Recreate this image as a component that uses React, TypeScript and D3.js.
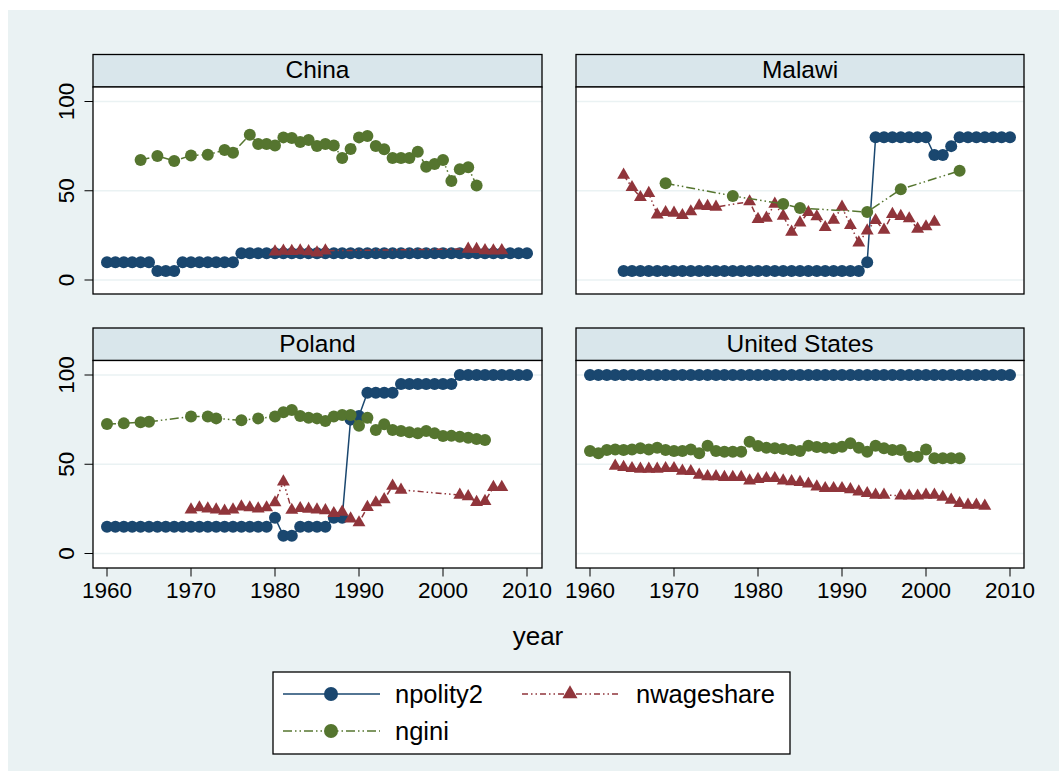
import React from "react";
import * as d3 from "d3";

type Pt = [number, number];

const countries = ["China", "Malawi", "Poland", "United States"];
const seriesNames = ["npolity2", "nwageshare", "ngini"];
const xTicks = [1960, 1970, 1980, 1990, 2000, 2010];
const yTicks = [0, 50, 100];

// China
const chinaPolity: Pt[] = [
  [1960, 10], [1961, 10], [1962, 10], [1963, 10], [1964, 10], [1965, 10],
  [1966, 5], [1967, 5], [1968, 5],
  [1969, 10], [1970, 10], [1971, 10], [1972, 10], [1973, 10], [1974, 10], [1975, 10],
  [1976, 15], [1977, 15], [1978, 15], [1979, 15], [1980, 15], [1981, 15], [1982, 15], [1983, 15],
  [1984, 15], [1985, 15], [1986, 15], [1987, 15], [1988, 15], [1989, 15], [1990, 15], [1991, 15],
  [1992, 15], [1993, 15], [1994, 15], [1995, 15], [1996, 15], [1997, 15], [1998, 15], [1999, 15],
  [2000, 15], [2001, 15], [2002, 15], [2003, 15], [2004, 15], [2005, 15], [2006, 15], [2007, 15],
  [2008, 15], [2009, 15], [2010, 15],
];
const chinaWage: Pt[] = [
  [1980, 15.8], [1981, 16.3], [1982, 16.1], [1983, 16.4], [1984, 16.0], [1985, 15.3], [1986, 16.4],
  [2003, 17.4], [2004, 17.2], [2005, 16.5], [2006, 16.4], [2007, 16.5],
];
const chinaGini: Pt[] = [
  [1964, 67.2], [1966, 69.5], [1968, 66.7], [1970, 69.8], [1972, 70.2], [1974, 72.8], [1975, 71.3],
  [1977, 81.4], [1978, 76.2], [1979, 76.2], [1980, 75.4], [1981, 79.9], [1982, 79.6], [1983, 77.3],
  [1984, 78.4], [1985, 75.1], [1986, 76.2], [1987, 75.4], [1988, 68.3], [1989, 73.4], [1990, 79.9],
  [1991, 80.7], [1992, 75.1], [1993, 73.2], [1994, 68.3], [1995, 68.3], [1996, 68.3], [1997, 71.9],
  [1998, 63.5], [1999, 65.0], [2000, 67.2], [2001, 55.5], [2002, 62.0], [2003, 63.1], [2004, 53.0],
];

// Malawi
const malawiPolity: Pt[] = [
  [1964, 5], [1965, 5], [1966, 5], [1967, 5], [1968, 5], [1969, 5], [1970, 5], [1971, 5],
  [1972, 5], [1973, 5], [1974, 5], [1975, 5], [1976, 5], [1977, 5], [1978, 5], [1979, 5],
  [1980, 5], [1981, 5], [1982, 5], [1983, 5], [1984, 5], [1985, 5], [1986, 5], [1987, 5],
  [1988, 5], [1989, 5], [1990, 5], [1991, 5], [1992, 5], [1993, 10],
  [1994, 80], [1995, 80], [1996, 80], [1997, 80], [1998, 80], [1999, 80], [2000, 80],
  [2001, 70], [2002, 70], [2003, 75],
  [2004, 80], [2005, 80], [2006, 80], [2007, 80], [2008, 80], [2009, 80], [2010, 80],
];
const malawiWage: Pt[] = [
  [1964, 58.8], [1965, 51.9], [1966, 46.3], [1967, 48.6], [1968, 36.6], [1969, 37.9], [1970, 37.5],
  [1971, 36.2], [1972, 38.3], [1973, 41.6], [1974, 41.3], [1975, 40.9], [1979, 43.9], [1980, 34.0],
  [1981, 34.7], [1982, 42.6], [1983, 35.9], [1984, 26.9], [1985, 32.1], [1986, 37.9], [1987, 35.5],
  [1988, 29.5], [1989, 33.6], [1990, 40.9], [1991, 30.6], [1992, 20.9], [1993, 27.6], [1994, 33.4],
  [1995, 28.0], [1996, 36.8], [1997, 35.7], [1998, 34.4], [1999, 28.6], [2000, 29.9], [2001, 32.5],
];
const malawiGini: Pt[] = [
  [1969, 54.2], [1977, 47.1], [1983, 42.6], [1985, 40.3], [1993, 38.1], [1997, 50.8], [2004, 61.2],
];

// Poland
const polandPolity: Pt[] = [
  [1960, 15], [1961, 15], [1962, 15], [1963, 15], [1964, 15], [1965, 15], [1966, 15], [1967, 15],
  [1968, 15], [1969, 15], [1970, 15], [1971, 15], [1972, 15], [1973, 15], [1974, 15], [1975, 15],
  [1976, 15], [1977, 15], [1978, 15], [1979, 15], [1980, 20], [1981, 10], [1982, 10],
  [1983, 15], [1984, 15], [1985, 15], [1986, 15], [1987, 20], [1988, 20], [1989, 75], [1990, 77],
  [1991, 90], [1992, 90], [1993, 90], [1994, 90],
  [1995, 95], [1996, 95], [1997, 95], [1998, 95], [1999, 95], [2000, 95], [2001, 95],
  [2002, 100], [2003, 100], [2004, 100], [2005, 100], [2006, 100], [2007, 100], [2008, 100],
  [2009, 100], [2010, 100],
];
const polandWage: Pt[] = [
  [1970, 24.5], [1971, 25.7], [1972, 25.1], [1973, 24.5], [1974, 23.8], [1975, 24.5], [1976, 26.2],
  [1977, 25.7], [1978, 25.1], [1979, 25.7], [1980, 28.5], [1981, 40.2], [1982, 24.3], [1983, 25.3],
  [1984, 24.9], [1985, 24.5], [1986, 24.1], [1987, 22.5], [1988, 23.3], [1989, 19.5], [1990, 17.3],
  [1991, 25.9], [1992, 28.5], [1993, 30.3], [1994, 37.8], [1995, 35.6],
  [2002, 32.8], [2003, 31.9], [2004, 28.7], [2005, 29.3], [2006, 37.1], [2007, 37.1],
];
const polandGini: Pt[] = [
  [1960, 72.5], [1962, 72.9], [1964, 73.5], [1965, 73.8], [1970, 76.7], [1972, 76.8], [1973, 75.7],
  [1976, 74.6], [1978, 75.7], [1980, 76.7], [1981, 79.1], [1982, 80.4], [1983, 77.0], [1984, 76.1],
  [1985, 75.7], [1986, 74.2], [1987, 76.7], [1988, 77.6], [1989, 77.6], [1990, 71.6], [1991, 76.1],
  [1992, 69.2], [1993, 72.4], [1994, 69.2], [1995, 68.6], [1996, 67.9], [1997, 67.3], [1998, 68.6],
  [1999, 67.3], [2000, 65.8], [2001, 65.9], [2002, 65.4], [2003, 64.9], [2004, 64.1], [2005, 63.6],
];

// United States
const usPolity: Pt[] = [
  [1960, 100], [1961, 100], [1962, 100], [1963, 100], [1964, 100], [1965, 100], [1966, 100],
  [1967, 100], [1968, 100], [1969, 100], [1970, 100], [1971, 100], [1972, 100], [1973, 100],
  [1974, 100], [1975, 100], [1976, 100], [1977, 100], [1978, 100], [1979, 100], [1980, 100],
  [1981, 100], [1982, 100], [1983, 100], [1984, 100], [1985, 100], [1986, 100], [1987, 100],
  [1988, 100], [1989, 100], [1990, 100], [1991, 100], [1992, 100], [1993, 100], [1994, 100],
  [1995, 100], [1996, 100], [1997, 100], [1998, 100], [1999, 100], [2000, 100], [2001, 100],
  [2002, 100], [2003, 100], [2004, 100], [2005, 100], [2006, 100], [2007, 100], [2008, 100],
  [2009, 100], [2010, 100],
];
const usWage: Pt[] = [
  [1963, 49.0], [1964, 48.3], [1965, 47.7], [1966, 47.3], [1967, 47.3], [1968, 47.3], [1969, 47.7],
  [1970, 47.7], [1971, 46.2], [1972, 46.0], [1973, 44.0], [1974, 43.1], [1975, 43.1], [1976, 42.7],
  [1977, 42.7], [1978, 42.7], [1979, 40.8], [1980, 41.6], [1981, 42.1], [1982, 42.1], [1983, 40.8],
  [1984, 40.3], [1985, 39.9], [1986, 39.0], [1987, 37.4], [1988, 36.5], [1989, 36.5], [1990, 36.5],
  [1991, 35.9], [1992, 34.6], [1993, 33.7], [1994, 32.8], [1995, 32.8], [1997, 32.3], [1998, 32.3],
  [1999, 32.3], [2000, 32.8], [2001, 32.8], [2002, 31.6], [2003, 30.0], [2004, 28.1], [2005, 27.2],
  [2006, 27.2], [2007, 26.6],
];
const usGini: Pt[] = [
  [1960, 57.4], [1961, 56.1], [1962, 58.0], [1963, 58.3], [1964, 58.0], [1965, 58.3], [1966, 58.9],
  [1967, 58.3], [1968, 59.3], [1969, 58.0], [1970, 57.4], [1971, 57.4], [1972, 58.3], [1973, 56.1],
  [1974, 60.4], [1975, 57.4], [1976, 57.0], [1977, 57.0], [1978, 57.0], [1979, 62.6], [1980, 60.2],
  [1981, 59.3], [1982, 58.9], [1983, 58.5], [1984, 58.0], [1985, 57.4], [1986, 60.4], [1987, 59.7],
  [1988, 59.3], [1989, 58.9], [1990, 59.8], [1991, 61.7], [1992, 59.3], [1993, 57.0], [1994, 60.4],
  [1995, 58.9], [1996, 58.0], [1997, 58.0], [1998, 54.2], [1999, 54.2], [2000, 58.3], [2001, 53.3],
  [2002, 53.3], [2003, 53.3], [2004, 53.3],
];

const panelData: Pt[][][] = [
  [chinaPolity, chinaWage, chinaGini],
  [malawiPolity, malawiWage, malawiGini],
  [polandPolity, polandWage, polandGini],
  [usPolity, usWage, usGini],
];

const COLORS = ["#1A476F", "#90353B", "#55752F"];
const DASH = ["none", "6,3,1.5,3,1.5,3", "9,3,1.5,3,1.5,3"];
const BG = "#EAF2F3";
const STRIP = "#D9E6EB";
const FONT = "'Liberation Sans', Arial, Helvetica, sans-serif";

const W = 1059;
const H = 771;

const panels = [
  { x0: 93, x1: 542, sy0: 54.5, y0: 87, y1: 294, row: 0, col: 0 },
  { x0: 576, x1: 1024, sy0: 54.5, y0: 87, y1: 294, row: 0, col: 1 },
  { x0: 93, x1: 542, sy0: 328, y0: 360.5, y1: 568, row: 1, col: 0 },
  { x0: 576, x1: 1024, sy0: 328, y0: 360.5, y1: 568, row: 1, col: 1 },
];

function triPath(cx: number, cy: number, s: number) {
  const h = (s * Math.sqrt(3)) / 2;
  return `M${cx},${cy - (2 * h) / 3}L${cx + s / 2},${cy + h / 3}L${cx - s / 2},${cy + h / 3}Z`;
}

function Marker({ kind, x, y, r, color }: { kind: number; x: number; y: number; r: number; color: string }) {
  if (kind === 1) return <path d={triPath(x, y, r * 2.15)} fill={color} />;
  return <circle cx={x} cy={y} r={r} fill={color} />;
}

export default function App() {
  return (
    <svg
      width={W}
      height={H}
      style={{ position: "absolute", left: 0, top: 0, fontFamily: FONT }}
    >
      <rect x={0} y={0} width={W} height={H} fill="#ffffff" />
      <rect x={8} y={10} width={W - 8} height={H - 10} fill={BG} />
      {panels.map((p, i) => {
        const x = d3.scaleLinear().domain([1960, 2010]).range([p.x0 + 14, p.x0 + 434]);
        const yBase = p.row === 0 ? 280 : 553.5;
        const y = d3.scaleLinear().domain([0, 100]).range([yBase, yBase - 178.5]);
        const line = d3
          .line<Pt>()
          .x((d) => x(d[0]))
          .y((d) => y(d[1]));
        return (
          <g key={i}>
            <rect x={p.x0} y={p.sy0} width={p.x1 - p.x0} height={p.y0 - p.sy0} fill={STRIP} stroke="#000" strokeWidth={1.3} />
            <text x={(p.x0 + p.x1) / 2} y={p.y0 - 9} textAnchor="middle" fontSize={24.5} fill="#000">
              {countries[i]}
            </text>
            <rect x={p.x0} y={p.y0} width={p.x1 - p.x0} height={p.y1 - p.y0} fill="#fff" />
            {yTicks.map((t) => (
              <line key={t} x1={p.x0} x2={p.x1} y1={y(t)} y2={y(t)} stroke={BG} strokeWidth={1.5} />
            ))}
            {panelData[i].map((s, k) => (
              <g key={k}>
                <path
                  d={line(s) || ""}
                  fill="none"
                  stroke={COLORS[k]}
                  strokeWidth={1.5}
                  strokeDasharray={DASH[k]}
                />
                {s.map((d, j) => (
                  <Marker key={j} kind={k === 1 ? 1 : 0} x={x(d[0])} y={y(d[1])} r={6} color={COLORS[k]} />
                ))}
              </g>
            ))}
            <rect x={p.x0} y={p.y0} width={p.x1 - p.x0} height={p.y1 - p.y0} fill="none" stroke="#000" strokeWidth={1.3} />
            {p.col === 0 &&
              yTicks.map((t) => (
                <g key={t}>
                  <line x1={p.x0 - 8.5} x2={p.x0} y1={y(t)} y2={y(t)} stroke="#000" strokeWidth={1} />
                  <text
                    transform={`translate(${p.x0 - 19.5},${y(t)}) rotate(-90)`}
                    textAnchor="middle"
                    fontSize={22.5}
                    fill="#000"
                  >
                    {t}
                  </text>
                </g>
              ))}
            {p.row === 1 &&
              xTicks.map((t) => (
                <g key={t}>
                  <line x1={x(t)} x2={x(t)} y1={p.y1} y2={p.y1 + 8.5} stroke="#000" strokeWidth={1} />
                  <text x={x(t)} y={p.y1 + 29.5} textAnchor="middle" fontSize={22.5} fill="#000">
                    {t}
                  </text>
                </g>
              ))}
          </g>
        );
      })}
      <text x={538} y={645} textAnchor="middle" fontSize={26} fill="#000">
        year
      </text>
      <g>
        <rect x={273} y={672} width={517} height={82} fill="#fff" stroke="#000" strokeWidth={1.3} />
        {seriesNames.map((name, k) => {
          const lx = k === 1 ? 522 : 283;
          const ly = k === 2 ? 731 : 694;
          const tx = k === 1 ? 636 : 395;
          return (
            <g key={name}>
              <line x1={lx} x2={lx + 97} y1={ly} y2={ly} stroke={COLORS[k]} strokeWidth={1.5} strokeDasharray={DASH[k]} />
              <Marker kind={k === 1 ? 1 : 0} x={lx + 48} y={ly} r={7} color={COLORS[k]} />
              <text x={tx} y={ly + 9} fontSize={25.5} fill="#000">
                {name}
              </text>
            </g>
          );
        })}
      </g>
    </svg>
  );
}
